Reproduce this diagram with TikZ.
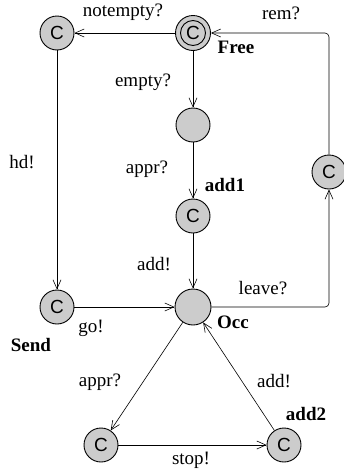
\documentclass[tikz,border=0pt]{standalone}
\usepackage{fontspec}
\setmainfont{Liberation Serif}
\newfontfamily\csans{Liberation Sans}
\usetikzlibrary{arrows.meta}
\tikzset{
  loc/.style={circle,draw,line width=0.9pt,fill=black!20,minimum size=34pt,inner sep=0pt},
  cloc/.style={loc,font=\csans\fontsize{19}{19}\selectfont,text height=13pt,text depth=0pt},
  lab/.style={font=\fontsize{19}{21}\selectfont,inner sep=0pt},
  nm/.style={font=\bfseries\fontsize{19}{21}\selectfont,inner sep=0pt},
  edge/.style={line width=0.6pt,-{Straight Barb[length=9pt,width=8pt,line width=0.6pt]}}
}
\begin{document}
\begin{tikzpicture}[x=1pt,y=-1pt]
\useasboundingbox (0,0) rectangle (344,474);
% locations
\node[cloc] (ne) at (57,33) {C};
\node[loc,minimum size=35pt] (free) at (193,33) {};
\node[circle,draw,line width=0.9pt,minimum size=25pt,inner sep=0pt,font=\csans\fontsize{19}{19}\selectfont,text height=13pt,text depth=0pt] (freein) at (193,33) {C};
\node[loc] (emp) at (193,125) {};
\node[cloc] (add1) at (193,216) {C};
\node[cloc] (rc) at (329,172) {C};
\node[cloc] (send) at (57,307) {C};
\node[loc,minimum size=36pt] (occ) at (193,307) {};
\node[cloc] (bl) at (101,445) {C};
\node[cloc] (add2) at (284,445) {C};
% edges
\draw[edge] (free) -- (ne);
\draw[edge,rounded corners=4pt] (rc.north) |- (free.east);
\draw[edge] (free) -- (emp);
\draw[edge] (emp) -- (add1);
\draw[edge] (ne) -- (send);
\draw[edge] (add1) -- (occ);
\draw[edge] (send) -- (occ);
\draw[edge,rounded corners=4pt] (occ.east) -| (rc.south);
\draw[edge] (occ) -- (bl);
\draw[edge] (bl) -- (add2);
\draw[edge] (add2) -- (occ);
% labels
\node[lab] (l1) at (123,12) {notempty?};
\node[lab] (l2) at (281,13) {rem?};
\node[nm] (n1) at (236,47) {Free};
\node[lab] (l3) at (143,82) {empty?};
\node[lab] (l4) at (22,162) {hd!};
\node[lab] (l5) at (147,169) {appr?};
\node[nm] (n2) at (225,185) {add1};
\node[lab] (l6) at (154,264) {add!};
\node[lab] (l7) at (263,288) {leave?};
\node[nm] (n3) at (233,322) {Occ};
\node[lab] (l8) at (91,328) {go!};
\node[nm] (n4) at (31,345) {Send};
\node[lab] (l9) at (100,382) {appr?};
\node[lab] (l10) at (274,381) {add!};
\node[nm] (n5) at (306,414) {add2};
\node[lab] (l11) at (191,460) {stop!};
\end{tikzpicture}
\end{document}
